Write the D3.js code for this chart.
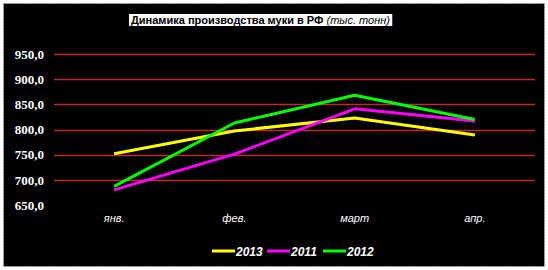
<!DOCTYPE html>
<html>
<head>
<meta charset="utf-8">
<script src="https://cdn.jsdelivr.net/npm/d3@7"></script>
<style>
	body { margin: 0; background: #fff; }
	svg { display: block; }
	.ylab { font-family: "Liberation Serif", "DejaVu Serif", serif !important; }
</style>
</head>
<body>
<div id="viz"></div>
<script>
const months = ['янв.', 'фев.', 'март', 'апр.'];
const yTicks = [650, 700, 750, 800, 850, 900, 950];
const series = ['2013', '2011', '2012'];
const colors = ['#ffff00', '#ff00ff', '#00ff00'];
const v2013 = [752, 797, 823, 789];
const v2011 = [680, 751, 841, 817];
const v2012 = [687, 813, 868, 820];

const values = [v2013, v2011, v2012];

let width = 548, height = 270;

let svg = d3.select('#viz').append('svg')
	.attr('width', width)
	.attr('height', height);

svg.append('rect')
	.attr('x', 3.5).attr('y', 3.5)
	.attr('width', 541).attr('height', 263)
	.attr('fill', '#000')
	.attr('stroke', '#ccc')
	.attr('stroke-dasharray', '1,2');

let x = d3.scaleBand()
	.domain(months)
	.range([54, 535]);

let y = d3.scaleLinear()
	.domain([650, 950])
	.range([205, 54]);

// gridlines
svg.append('g')
	.selectAll('line')
	.data(yTicks.filter(d => d > 650))
	.join('line')
	.attr('x1', 54)
	.attr('x2', 535)
	.attr('y1', d => Math.round(y(d)) + 0.5)
	.attr('y2', d => Math.round(y(d)) + 0.5)
	.attr('stroke', '#c0282e')
	.attr('stroke-width', 1.5);

let yAxis = svg.append('g')
	.attr('transform', 'translate(44,0)')
	.call(d3.axisLeft(y).tickValues(yTicks).tickSize(0).tickPadding(0)
		.tickFormat(d => d3.format('.1f')(d).replace('.', ',')));
yAxis.select('.domain').remove();
yAxis.attr('font-family', '"Liberation Serif", serif');
yAxis.selectAll('text')
	.attr('class', 'ylab')
	.attr('fill', '#fff')
	.style('font-weight', 'bold')
	.style('font-size', '13px');

let xAxis = svg.append('g')
	.attr('transform', 'translate(0,214)')
	.call(d3.axisBottom(x).tickSize(0).tickPadding(0));
xAxis.select('.domain').remove();
xAxis.selectAll('text')
	.attr('fill', '#fff')
	.style('font-family', '"Liberation Sans", Arial, sans-serif')
	.style('font-style', 'italic')
	.style('font-size', '11px');

let line = d3.line()
	.x((d, i) => x(months[i]) + x.bandwidth() / 2)
	.y(d => y(d));

series.forEach((s, i) => {
	svg.append('path')
		.datum(values[i])
		.attr('fill', 'none')
		.attr('stroke', colors[i])
		.attr('stroke-width', 3)
		.attr('stroke-linejoin', 'round')
		.attr('d', line);
});

// title
let titleBg = svg.append('rect').attr('fill', '#fff');
let title = svg.append('text')
	.attr('x', 131)
	.attr('y', 24)
	.style('font-family', '"Liberation Sans", Arial, sans-serif')
	.style('font-size', '11px')
	.attr('fill', '#000');
title.append('tspan').style('font-weight', 'bold').text('Динамика производства муки в РФ ');
title.append('tspan').style('font-style', 'italic').text('(тыс. тонн)');
let bb = title.node().getBBox();
titleBg
	.attr('x', bb.x - 2).attr('y', bb.y)
	.attr('width', bb.width + 4).attr('height', bb.height);

// legend
let legendX = [212, 267, 323];
series.forEach((s, i) => {
	let g = svg.append('g').attr('transform', `translate(${legendX[i]},251)`);
	g.append('line')
		.attr('x1', 0).attr('x2', 23)
		.attr('stroke', colors[i])
		.attr('stroke-width', 3);
	g.append('text')
		.attr('x', 24)
		.attr('y', 4.5)
		.attr('fill', '#fff')
		.style('font-family', '"Liberation Sans", Arial, sans-serif')
		.style('font-weight', 'bold')
		.style('font-style', 'italic')
		.style('font-size', '12px')
		.text(s);
});
</script>
</body>
</html>
